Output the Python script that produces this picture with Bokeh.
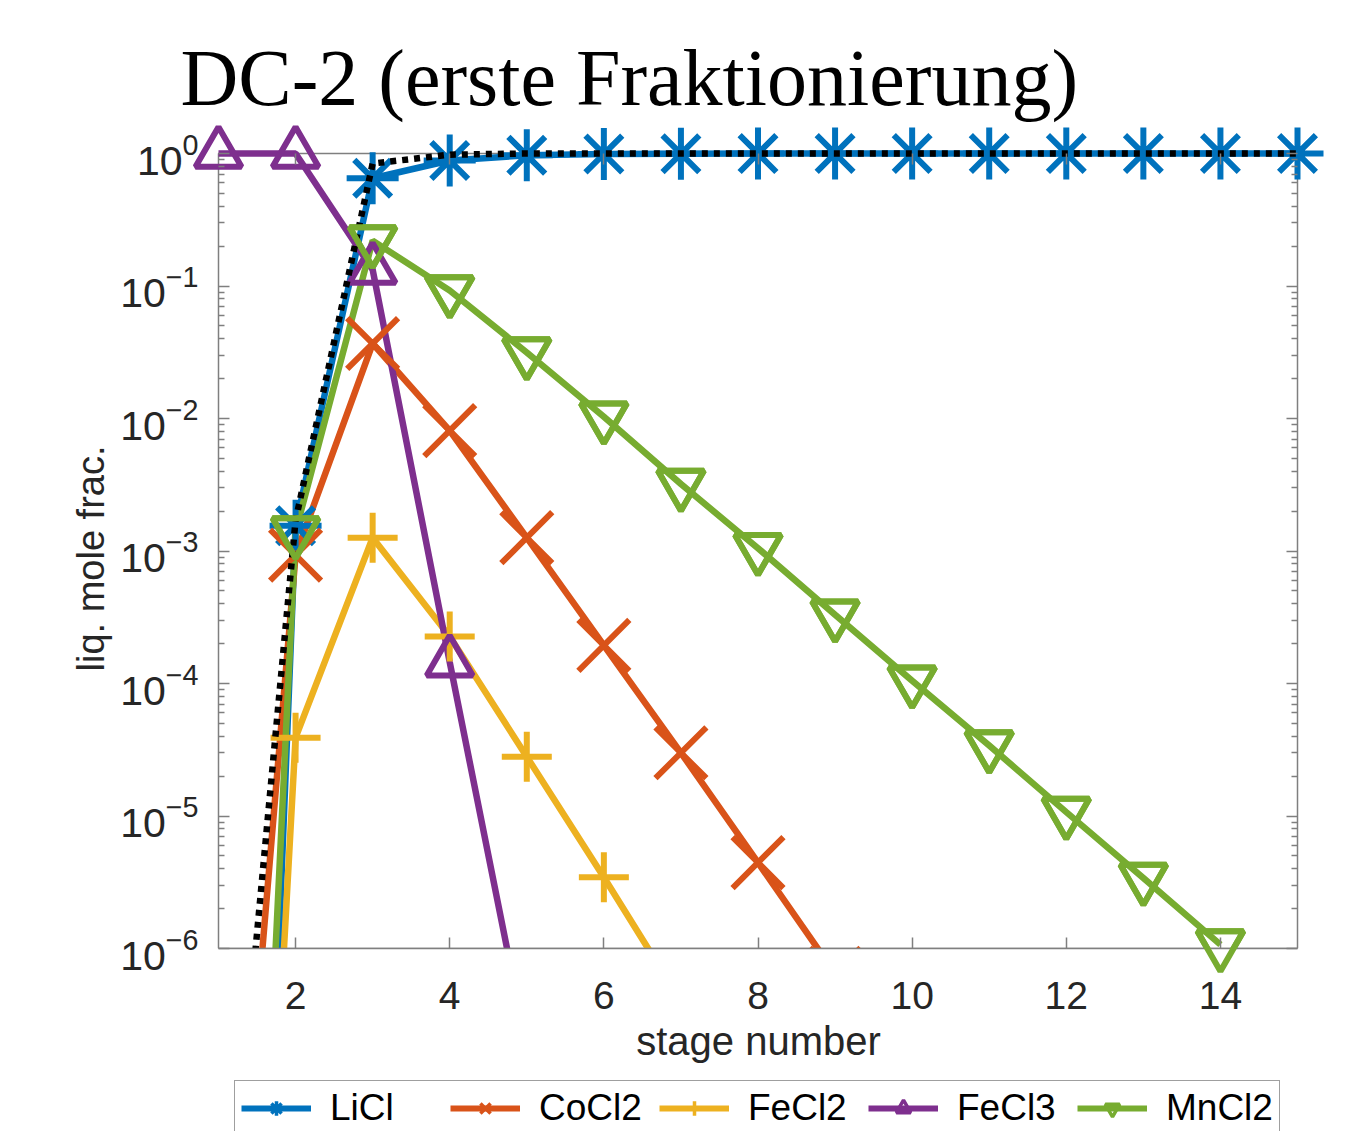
import math
from bokeh.plotting import figure
from bokeh.models import (LinearAxis, LogAxis, FixedTicker, LogTickFormatter, Label,
                          Legend, LegendItem, ColumnDataSource, Range1d)
from bokeh.embed import file_html
from bokeh.resources import INLINE

nan = float("nan")

# ---- data ----
stages = list(range(1, 16))
licl  = [5e-18, 1.55e-3, 0.65, 0.885, 0.97, 0.99, 0.995, 0.998, 0.999, 1.0, 1.0, 1.0, 1.0, 1.0, 1.0]
cocl2 = [1.15e-10, 9.3e-4, 0.0368, 8.1e-3, 1.26e-3, 1.94e-4, 3.0e-5, 4.45e-6, 6.5e-7,
         nan, nan, nan, nan, nan, nan]
fecl2 = [1e-15, 3.9e-5, 1.26e-3, 2.26e-4, 2.8e-5, 3.45e-6, 4.0e-7,
         nan, nan, nan, nan, nan, nan, nan, nan]
fecl3 = [1.0, 1.0, 0.133, 1.45e-4, 1.8e-7,
         nan, nan, nan, nan, nan, nan, nan, nan, nan, nan]
mncl2 = [1e-15, 1.4e-3, 0.22, 0.0925, 0.0315, 0.0103, 3.2e-3, 1.05e-3, 3.3e-4, 1.05e-4,
         3.4e-5, 1.07e-5, 3.4e-6, 1.07e-6, nan]
dotted = [1e-9, 1.7e-3, 0.84, 0.98, 1.0, 1.0, 1.0, 1.0, 1.0, 1.0, 1.0, 1.0, 1.0, 1.0, 1.0]

series_names = ["LiCl", "CoCl2", "FeCl2", "FeCl3", "MnCl2"]
x_ticks = [2, 4, 6, 8, 10, 12, 14]
y_ticks = [1e-6, 1e-5, 1e-4, 1e-3, 1e-2, 1e-1, 1.0]

# ---- styling ----
colors = ["#0072BD", "#D95319", "#EDB120", "#7E2F8E", "#77AC30"]
markers = ["asterisk", "x", "cross", "triangle", "inverted_triangle"]
msizes = [52, 72, 50, 46, 46]
values_all = [licl, cocl2, fecl2, fecl3, mncl2]

x_lo, x_hi = 1, 15
y_lo, y_hi = 1e-6, 1.0
axis_col = "#7f7f7f"
txt_col = "#262626"
sans = "Liberation Sans"

# canvas layout (pixels); the frame covers the whole canvas
W, H = 1352, 1131
box_l, box_r, box_t, box_b = 218, 1297, 153, 948
ux = (box_r - box_l) / (x_hi - x_lo)
dec = math.log10(y_hi) - math.log10(y_lo)
uy = (box_b - box_t) / dec
x_start = x_lo - box_l / ux
x_end = x_hi + (W - box_r) / ux
y_start = 10 ** (math.log10(y_lo) - (H - box_b) / uy)
y_end = 10 ** (math.log10(y_hi) + box_t / uy)

def px_x(cx):
    return x_lo + (cx - box_l) / ux

def px_y(cy):
    return 10 ** (math.log10(y_hi) - (cy - box_t) / uy)

p = figure(width=W, height=H,
           x_range=Range1d(x_start, x_end), y_range=Range1d(y_start, y_end),
           y_axis_type="log", x_axis_location=None, y_axis_location=None,
           toolbar_location=None, output_backend="svg", min_border=0)
p.outline_line_color = None
p.background_fill_color = "white"
p.border_fill_color = "white"
for g in p.grid:
    g.visible = False

# axes box
p.quad(left=[x_lo], right=[x_hi], bottom=[y_lo], top=[y_hi], fill_color=None,
       line_color=axis_col, line_width=1.5)

src = {name: ColumnDataSource(dict(x=stages, y=vals)) for name, vals in zip(series_names, values_all)}

for name, c in zip(series_names, colors):
    p.line("x", "y", source=src[name], line_color=c, line_width=6.5)
for name, c, m, s in zip(series_names, colors, markers, msizes):
    p.scatter("x", "y", source=src[name], marker=m, size=s, line_color=c,
              fill_color=None, line_width=6)

p.line(stages, dotted, line_color="black", line_width=6.5, line_dash="6 6")

# white mask below the lower limit (lines are clipped there, as in the original)
p.quad(left=[x_start - 1], right=[x_end + 1], bottom=[y_start / 10], top=[y_lo],
       fill_color="white", line_color=None)
p.line([x_lo, x_hi], [y_lo, y_lo], line_color=axis_col, line_width=1.5)
p.scatter("x", "y", source=src["MnCl2"], marker="inverted_triangle", size=msizes[4],
          line_color=colors[4], fill_color=None, line_width=6)

# ---- axes (drawn on the box edges) ----
xt = FixedTicker(ticks=x_ticks)
y_minor = [k * t for t in y_ticks[:-1] for k in range(2, 10)]
yt = FixedTicker(ticks=y_ticks, minor_ticks=y_minor)

common = dict(axis_line_color=None, major_tick_out=0, minor_tick_out=0,
              major_tick_line_color=axis_col, major_tick_line_width=1.5,
              minor_tick_line_color=axis_col, minor_tick_line_width=1.5,
              major_label_text_font=sans)

bottom = LinearAxis(ticker=xt, fixed_location=y_lo, major_tick_in=11, minor_tick_in=0,
                    major_label_text_font_size="39px", major_label_standoff=33,
                    major_label_text_color=txt_col, **common)
top = LinearAxis(ticker=xt, fixed_location=y_hi, major_tick_in=11, minor_tick_in=0,
                 major_label_text_color=None, **common)
left = LogAxis(ticker=yt, formatter=LogTickFormatter(), fixed_location=x_lo,
               major_tick_in=11, minor_tick_in=6, major_label_text_color=txt_col,
               major_label_text_font_size="41px", major_label_standoff=20, **common)
right = LogAxis(ticker=yt, formatter=LogTickFormatter(), fixed_location=x_hi,
                major_tick_in=11, minor_tick_in=6, major_label_text_color=None, **common)
p.add_layout(bottom, "below")
p.add_layout(top, "above")
p.add_layout(left, "left")
p.add_layout(right, "right")

# ---- texts ----
p.add_layout(Label(x=px_x(180), y=px_y(77), text="DC-2 (erste Fraktionierung)",
                   text_font="Liberation Serif", text_font_size="80px",
                   text_color="black", text_align="left", text_baseline="alphabetic"))
p.add_layout(Label(x=px_x(758), y=px_y(1040), text="stage number", text_font=sans,
                   text_font_size="40px", text_color=txt_col, text_align="center",
                   text_baseline="alphabetic"))
p.add_layout(Label(x=px_x(90), y=px_y(558), text="liq. mole frac.", text_font=sans,
                   text_font_size="38px", text_color=txt_col, text_align="center",
                   text_baseline="alphabetic", angle=math.pi / 2))

# ---- legend (hidden proxy renderers on the same data carry the legend styling) ----
items = []
for name, c, m in zip(series_names, colors, markers):
    lr = p.line("x", "y", source=src[name], line_color=c, line_width=6, visible=False)
    mr = p.scatter("x", "y", source=src[name], marker=m, size=20, line_color=c,
                   fill_color=None, line_width=3.5, visible=False)
    items.append(LegendItem(label=name, renderers=[lr, mr]))

legend_top, legend_pad, legend_gh = 1088, 6, 36
legend_h = legend_gh + 2 * legend_pad
legend = Legend(items=items, orientation="horizontal",
                location=(234, H - legend_top - legend_h),
                glyph_width=70, glyph_height=legend_gh, label_height=legend_gh, label_width=105,
                label_standoff=19, spacing=15, padding=legend_pad, margin=0,
                label_text_font=sans, label_text_font_size="37px", label_text_color="black",
                border_line_color="#404040", border_line_width=1.5,
                background_fill_color="white", background_fill_alpha=1.0,
                inactive_fill_alpha=0.0)
p.add_layout(legend, "center")

open("out.html", "w").write(file_html(p, INLINE))
